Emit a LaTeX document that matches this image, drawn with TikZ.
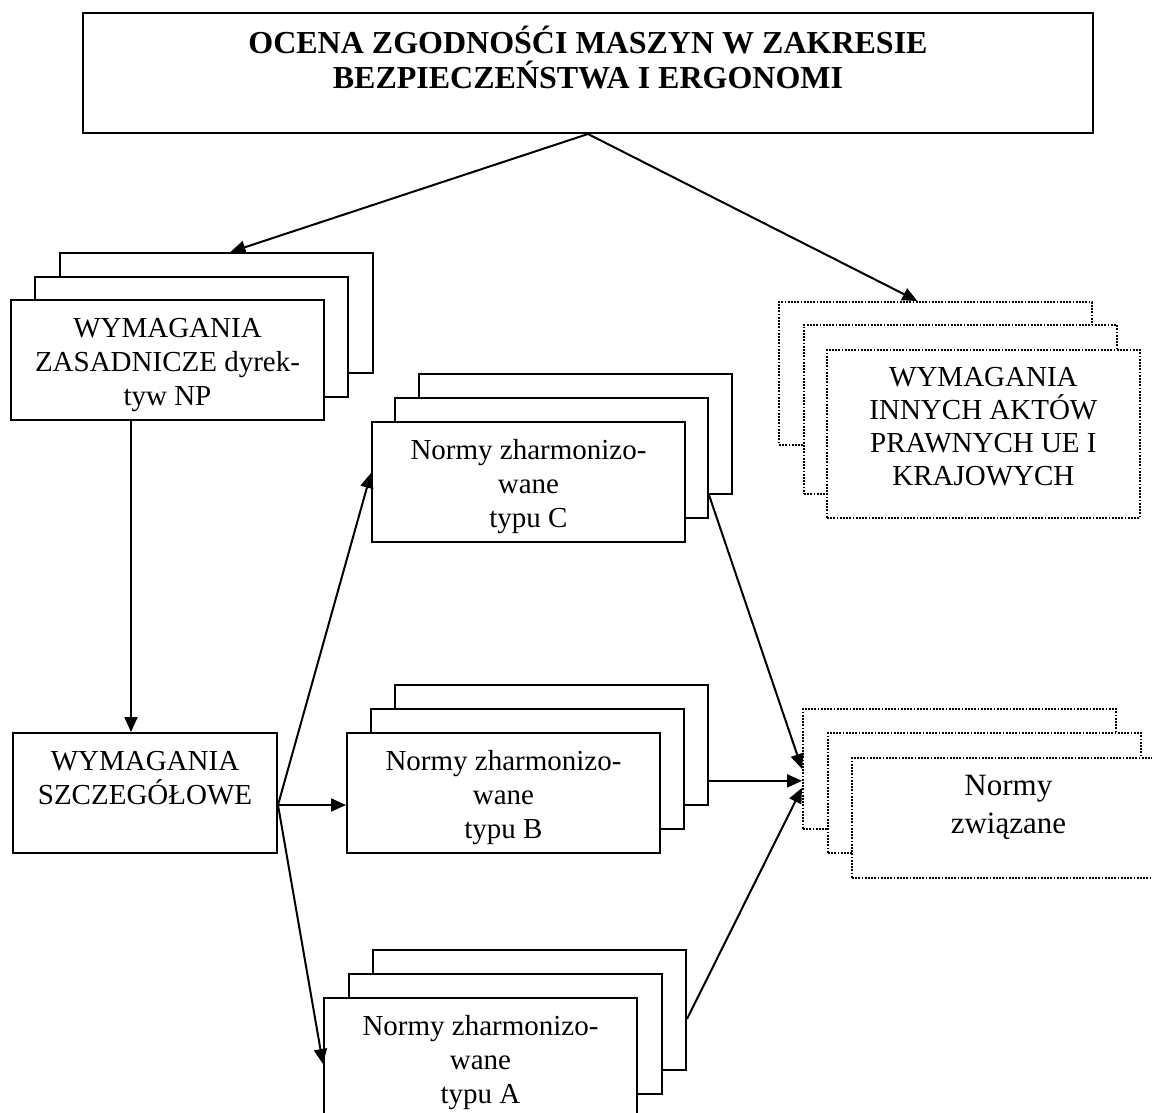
\documentclass[tikz,border=0pt]{standalone}
\usepackage{fontspec}
\setmainfont{Liberation Serif}
\usetikzlibrary{arrows.meta}

\tikzset{
  card/.style={draw, fill=white, line width=1pt, anchor=north west, inner sep=0pt,
    minimum width=156.5pt, minimum height=60pt, align=center},
  cardtext/.style={card, text height=52.5pt, text depth=7.5pt,
    font=\fontsize{14.5}{17}\selectfont},
  dotcard/.style={card, line width=0.9pt, dash pattern=on 0.9pt off 0.7pt},
  conn/.style={line width=1pt, -{Triangle[length=7.5pt,width=6.5pt]}}
}

\begin{document}
\begin{tikzpicture}[x=0.5pt,y=-0.5pt]
  \useasboundingbox (0,0) rectangle (1152,1113);

  \node[card, minimum width=505pt, text height=38pt, text depth=22pt,
    font=\fontsize{16}{17.5}\selectfont\bfseries] (title) at (82,12)
    {OCENA ZGODNOŚĆI MASZYN W ZAKRESIE\\ BEZPIECZEŃSTWA I ERGONOMI};

  % wymagania zasadnicze
  \node[card] (zas3) at (59,252) {};
  \node[card] (zas2) at (34,276) {};
  \node[cardtext] (zas1) at (10,299) {WYMAGANIA\\ ZASADNICZE dyrek-\\ tyw NP};

  \node[cardtext, minimum width=132pt, text height=35.5pt, text depth=24.5pt]
    (szcz) at (12,732) {WYMAGANIA\\ SZCZEGÓŁOWE};

  % normy typu C, B, A
  \node[card] (c3) at (418,373) {};
  \node[card] (c2) at (394,397) {};
  \node[cardtext] (c1) at (371,421) {Normy zharmonizo-\\ wane\\ typu C};

  \node[card] (b3) at (394,684) {};
  \node[card] (b2) at (370,708) {};
  \node[cardtext] (b1) at (346,732) {Normy zharmonizo-\\ wane\\ typu B};

  \node[card] (a3) at (372,949) {};
  \node[card] (a2) at (348,973) {};
  \node[cardtext] (a1) at (323,997) {Normy zharmonizo-\\ wane\\ typu A};

  % dotted stacks on the right
  \node[dotcard, minimum height=71.5pt] (inn3) at (778,301) {};
  \node[dotcard, minimum height=84.5pt] (inn2) at (803,324) {};
  \node[dotcard, minimum height=84pt, text height=68pt, text depth=16pt,
    font=\fontsize{14.5}{16.5}\selectfont] (inn1) at (826,349)
    {WYMAGANIA\\ INNYCH AKTÓW\\ PRAWNYCH UE I\\ KRAJOWYCH};

  \node[dotcard] (nzw3) at (802,708) {};
  \node[dotcard] (nzw2) at (827,732) {};
  \node[dotcard, text height=38pt, text depth=22pt,
    font=\fontsize{15.5}{19}\selectfont] (nzw1) at (851,757) {Normy\\ związane};

  % connectors
  \draw[conn] (title.south) -- ([xshift=7pt]zas3.north);
  \draw[conn] (title.south) -- ([xshift=-9pt]inn3.north);
  \draw[conn] ([xshift=-18.25pt]zas1.south) -- ([xshift=-18.25pt]zas1.south |- szcz.north);

  \coordinate (s) at ([yshift=-6pt]szcz.east);
  \draw[conn] (s) -- ([yshift=4.5pt]c1.west);
  \draw[conn] (s) -- (s -| b1.west);
  \draw[conn] (s) -- ([yshift=-3pt]a1.west);

  \draw[conn] (c3.south -| c2.east) -- (nzw3.west);
  \draw[conn] ([yshift=-6pt]nzw3.west -| b3.east) -- ([yshift=-6pt]nzw3.west);
  \draw[conn] ([yshift=-4.5pt]a3.east) -- ([yshift=-9.5pt]nzw3.west);
\end{tikzpicture}
\end{document}
